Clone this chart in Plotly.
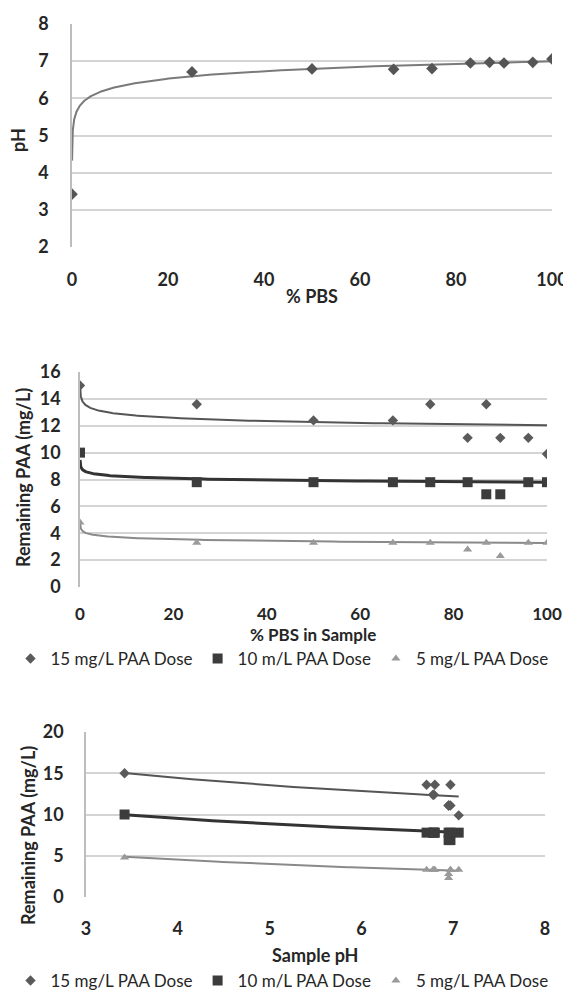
import numpy as np
import plotly.graph_objects as go

# ---------------- data ----------------
pbs_pct = [0, 25, 50, 67, 75, 83, 87, 90, 96, 100]
sample_ph = [3.42, 6.71, 6.79, 6.78, 6.80, 6.95, 6.97, 6.95, 6.97, 7.06]

paa_15 = [15.0, 13.6, 12.4, 12.4, 13.6, 11.1, 13.6, 11.1, 11.1, 9.9]
paa_10 = [10.0, 7.8, 7.8, 7.8, 7.8, 7.8, 6.9, 6.9, 7.8, 7.8]
paa_5 = [4.8, 3.3, 3.3, 3.3, 3.3, 2.8, 3.3, 2.3, 3.3, 3.3]

series_names = ["15 mg/L PAA Dose", "10 m/L PAA Dose", "5 mg/L PAA Dose"]

# logarithmic trendline coefficients (y = a*ln(x) + b), as shown in the chart
trend_ph = (0.29, 5.66)
trend_pbs = [(-0.34, 13.6), (-0.18, 8.62), (-0.17, 4.06)]
trend_phx = [(-3.93, 19.87), (-2.93, 13.57), (-2.38, 7.82)]

# ---------------- styling ----------------
W, H = 571, 993
OFF = 8  # page body margin offsets the figure
FONT = "Lato"
TXT = "#262626"
GRID = "#d4d4d4"
cols = ["#5a5a5a", "#3c3c3c", "#9a9a9a"]
line_cols = ["#555555", "#333333", "#8a8a8a"]
line_w = [2, 3, 2]
symbols = ["diamond", "square", "triangle-up"]
msize = [8, 10, 8]


def fx(x):
    return (x - OFF) / W


def fy(y):
    return 1 - (y - OFF) / H


def px_x(a, b):
    return [fx(a), fx(b)]


def px_y(top, bottom):
    return [fy(bottom), fy(top)]


fig = go.Figure()

# ---- Top chart: pH vs % PBS ----
xf = np.geomspace(0.01, 100, 300)
fig.add_trace(go.Scatter(x=xf, y=trend_ph[0] * np.log(xf) + trend_ph[1], mode="lines",
                         line=dict(color="#7a7a7a", width=2), showlegend=False,
                         xaxis="x", yaxis="y", hoverinfo="skip"))
fig.add_trace(go.Scatter(x=pbs_pct, y=sample_ph, mode="markers",
                         marker=dict(symbol="diamond", size=9, color="#555555"),
                         showlegend=False, xaxis="x", yaxis="y"))

# ---- Middle chart: PAA vs % PBS ----
for i, ys in enumerate([paa_15, paa_10, paa_5]):
    a, b = trend_pbs[i]
    fig.add_trace(go.Scatter(x=xf, y=a * np.log(xf) + b, mode="lines",
                             line=dict(color=line_cols[i], width=line_w[i]),
                             showlegend=False, xaxis="x2", yaxis="y2", hoverinfo="skip"))
for i, ys in enumerate([paa_15, paa_10, paa_5]):
    fig.add_trace(go.Scatter(x=pbs_pct, y=ys, mode="markers", name=series_names[i],
                             marker=dict(symbol=symbols[i], size=msize[i], color=cols[i]),
                             xaxis="x2", yaxis="y2", legend="legend"))

# ---- Bottom chart: PAA vs pH ----
xp = np.linspace(min(sample_ph), max(sample_ph), 100)
for i, ys in enumerate([paa_15, paa_10, paa_5]):
    a, b = trend_phx[i]
    fig.add_trace(go.Scatter(x=xp, y=a * np.log(xp) + b, mode="lines",
                             line=dict(color=line_cols[i], width=line_w[i]),
                             showlegend=False, xaxis="x3", yaxis="y3", hoverinfo="skip"))
for i, ys in enumerate([paa_15, paa_10, paa_5]):
    fig.add_trace(go.Scatter(x=sample_ph, y=ys, mode="markers", name=series_names[i],
                             marker=dict(symbol=symbols[i], size=msize[i], color=cols[i]),
                             xaxis="x3", yaxis="y3", legend="legend2"))

tick_font = dict(family=FONT, size=18, color=TXT, weight=700)
title_font = dict(family=FONT, size=18, color=TXT, weight=700)


def xax(domain, rng, dtick, anchor, gap, size=18):
    return dict(domain=domain, range=rng, dtick=dtick, tick0=rng[0], anchor=anchor,
                showgrid=False, zeroline=False, showline=False,
                ticks="outside", ticklen=gap, tickcolor="rgba(0,0,0,0)",
                tickfont=dict(tick_font, size=size), automargin=False)


def yax(domain, rng, dtick, anchor, gap):
    return dict(domain=domain, range=rng, dtick=dtick, tick0=rng[0], anchor=anchor,
                showgrid=True, gridcolor=GRID, gridwidth=2, zeroline=False,
                showline=True, linecolor="#bdbdbd", linewidth=1.5,
                ticks="outside", ticklen=gap, tickcolor="rgba(0,0,0,0)",
                tickfont=tick_font, automargin=False)


def title_ann(text, x, y, angle=0, size=18):
    return dict(text=text, x=fx(x), y=fy(y), xref="paper", yref="paper",
                showarrow=False, textangle=angle, font=dict(title_font, size=size),
                xanchor="center", yanchor="middle")


fig.update_layout(
    width=W, height=H,
    margin=dict(l=0, r=0, t=0, b=0),
    paper_bgcolor="white", plot_bgcolor="white",
    font=dict(family=FONT, color=TXT),
    xaxis=xax(px_x(72, 552), [0, 100], 20, "y", 16),
    yaxis=yax(px_y(24, 247), [2, 8], 1, "x", 18),
    xaxis2=xax(px_x(80, 547), [0, 100], 20, "y2", 12, 17),
    yaxis2=yax(px_y(372, 587), [0, 16], 2, "x2", 14),
    xaxis3=xax(px_x(86, 545), [3, 8], 1, "y3", 15),
    yaxis3=yax(px_y(732, 897), [0, 20], 5, "x3", 17),
    annotations=[
        title_ann("pH", 18, 140, -90),
        title_ann("% PBS", 312, 296),
        title_ann("Remaining PAA (mg/L)", 23, 478, -90),
        title_ann("% PBS in Sample", 313, 634, 0, 17),
        title_ann("Remaining PAA (mg/L)", 28, 836, -90),
        title_ann("Sample pH", 315, 955),
    ],
    legend=dict(orientation="h", x=fx(282), xanchor="center", y=fy(659), yanchor="middle",
                font=dict(family=FONT, size=17, color=TXT), itemwidth=30,
                bgcolor="rgba(0,0,0,0)", tracegroupgap=0),
    legend2=dict(orientation="h", x=fx(282), xanchor="center", y=fy(981), yanchor="middle",
                 font=dict(family=FONT, size=17, color=TXT), itemwidth=30,
                 bgcolor="rgba(0,0,0,0)", tracegroupgap=0),
)

fig.write_html("out.html")
